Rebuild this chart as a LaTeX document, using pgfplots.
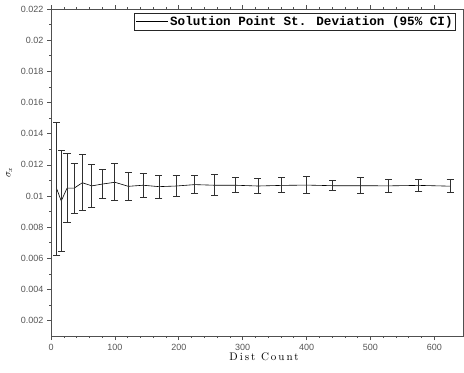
\documentclass[border=0pt]{standalone}
\usepackage{fontspec}
\setmainfont{Latin Modern Roman}
\newfontfamily\ticksf{Liberation Sans}
\newfontfamily\legmono{Liberation Mono}
\newfontfamily\spacedrm[LetterSpace=18]{Latin Modern Roman}
\usepackage{pgfplots}
\pgfplotsset{compat=1.18}
\definecolor{axgray}{HTML}{505050}
\definecolor{ticktext}{HTML}{555555}
\definecolor{errgray}{HTML}{303030}
\begin{document}
\begin{tikzpicture}
\begin{axis}[
  scale only axis,
  width=411.7pt, height=327pt,
  xmin=0, xmax=645,
  ymin=0.001, ymax=0.022,
  xtick={0,100,200,300,400,500,600},
  ytick={0.002,0.004,0.006,0.008,0.01,0.012,0.014,0.016,0.018,0.02,0.022},
  minor x tick num=4,
  minor y tick num=1,
  scaled ticks=false,
  tick align=outside,
  major tick length=4pt,
  minor tick length=2pt,
  axis line style={axgray, line width=0.8pt},
  every tick/.style={axgray, line width=0.6pt},
  /pgf/number format/assume math mode=true,
  yticklabel style={/pgf/number format/fixed, /pgf/number format/precision=3},
  ticklabel style={font=\ticksf\fontsize{9}{10}\selectfont, text=ticktext},
  xlabel={\spacedrm\fontsize{11}{12}\selectfont Dist Count},
  xlabel style={xshift=7pt, yshift=4pt},
  ylabel={$\sigma_x$},
  ylabel style={font=\fontsize{10}{12}\selectfont, yshift=2pt},
  legend style={at={(1,1)}, anchor=north east, xshift=-7pt, yshift=-4pt,
    draw=black!85, line width=0.7pt, inner sep=1pt,
    font=\legmono\bfseries\fontsize{12.6}{13}\selectfont},
  legend cell align=left,
  legend image code/.code={\draw[black, line width=0.6pt] (0pt,0pt) -- (32pt,0pt);},
]
\addplot[black, line width=0.6pt, mark=none,
  error bars/.cd, y dir=both, y explicit,
  error bar style={errgray, line width=0.9pt},
  error mark options={rotate=90, mark size=3.5pt, errgray, line width=0.9pt}]
  table[x=x, y=y, y error=e] {
x y e
9 0.01045 0.00425
16 0.00968 0.00327
25 0.0105 0.0022
36 0.0105 0.00161
49 0.01085 0.0018
64 0.01065 0.00138
81 0.01077 0.00092
100 0.01088 0.00118
121 0.01062 0.00092
144 0.01069 0.00077
169 0.0106 0.00073
196 0.01064 0.0007
225 0.01073 0.00056
256 0.01069 0.00068
289 0.01069 0.00049
324 0.01064 0.0005
361 0.01068 0.00048
400 0.0107 0.00055
441 0.01066 0.00032
484 0.01066 0.0005
529 0.01065 0.00044
576 0.01068 0.0004
625 0.01063 0.0004
};
\addlegendentry{Solution Point St. Deviation (95\% CI)}
\end{axis}
\pgfresetboundingbox
\path[use as bounding box] (current axis.south west) ++(-51pt,-36.3pt) rectangle ([xshift=1pt,yshift=9pt]current axis.north east);
\end{tikzpicture}
\end{document}
